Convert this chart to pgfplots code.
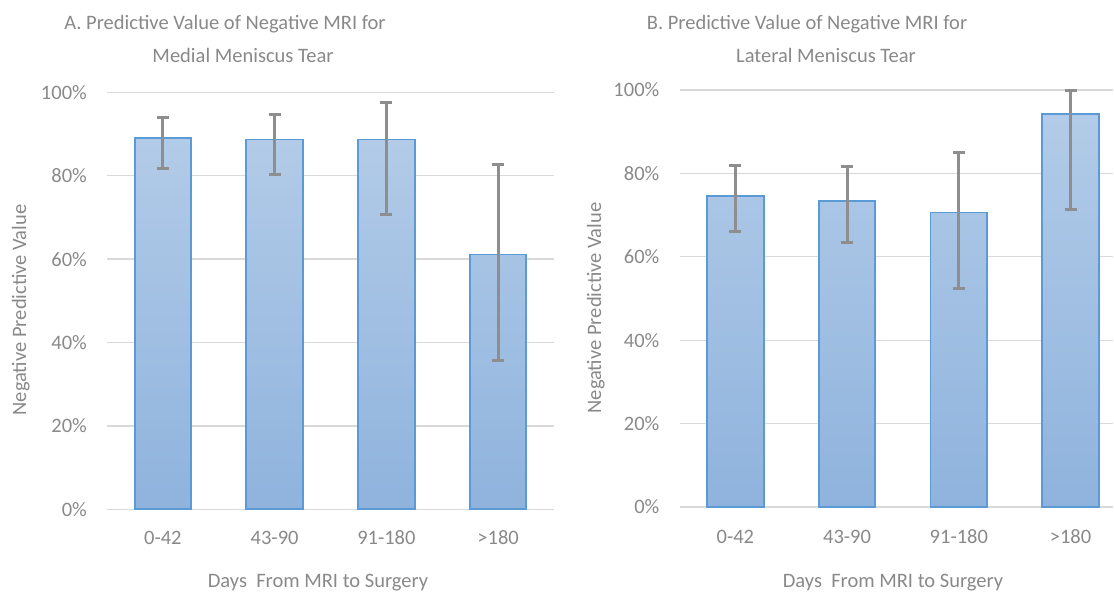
\documentclass[border=0pt]{standalone}
\usepackage{fontspec}
\setmainfont{Carlito}
\usepackage{pgfplots}
\usepackage{pgfplotstable}
\pgfplotsset{compat=1.18}
\definecolor{txtgray}{HTML}{898989}
\definecolor{gridgray}{HTML}{D9D9D9}
\definecolor{bartop}{HTML}{B2CBE8}
\definecolor{barbot}{HTML}{8FB3DD}
\definecolor{baredge}{HTML}{5B9BD5}
\definecolor{errgray}{HTML}{8E8E8E}

\pgfplotstableread{
x y ep em
0 89.0 5.0 7.2
1 88.7 5.9 8.4
2 88.7 8.9 18.0
3 61.1 21.6 25.4
}\tableA
\pgfplotstableread{
x y ep em
0 74.6 7.4 8.6
1 73.3 8.3 9.8
2 70.6 14.4 18.2
3 94.2 5.7 22.8
}\tableB

\pgfplotsset{
 myaxis/.style={
  scale only axis, height=417pt, ymin=0, ymax=100, xmin=-0.5,
  ytick={0,20,40,60,80,100}, yticklabels={0\%,20\%,40\%,60\%,80\%,100\%},
  xtick={0,1,2,3}, xticklabels={0-42,43-90,91-180,>180},
  ymajorgrids, grid style={gridgray, line width=1.3pt},
  axis line style={draw=none}, major tick length=0pt,
  tick label style={font=\fontsize{20.5}{24}\selectfont, text=txtgray, inner sep=0pt},
  yticklabel style={anchor=east, xshift=-20pt},
  clip=false,
 },
 mybar/.style={ybar, bar width=56.5pt, draw=baredge, line width=1.8pt,
   top color=bartop, bottom color=barbot,
   error bars/.cd, y dir=both, y explicit,
   error bar style={errgray, line width=3pt},
   error mark options={errgray, rotate=90, mark size=6pt, line width=3pt}},
}

\begin{document}
\begin{tikzpicture}[every node/.style={text=txtgray, font=\fontsize{20.5}{24}\selectfont}]
\path[use as bounding box] (0,0) rectangle (1114pt,592pt);

\begin{axis}[myaxis, width=447pt, xmax=3.5, at={(107pt,82.7pt)}, anchor=south west,
  xticklabel style={anchor=base, yshift=-34.7pt}]
\addplot[mybar] table[x=x, y=y, y error plus=ep, y error minus=em] {\tableA};
\end{axis}

\begin{axis}[myaxis, width=433.5pt, xmax=3.38, at={(679.5pt,85pt)}, anchor=south west,
  xticklabel style={anchor=base, yshift=-36.3pt}]
\addplot[mybar] table[x=x, y=y, y error plus=ep, y error minus=em] {\tableB};
\end{axis}

\node[anchor=base] at (225pt,562pt) {A. Predictive Value of Negative MRI for};
\node[anchor=base] at (243pt,529pt) {Medial Meniscus Tear};
\node[anchor=base] at (807pt,562pt) {B. Predictive Value of Negative MRI for};
\node[anchor=base] at (826pt,529pt) {Lateral Meniscus Tear};

\node[anchor=base] at (318pt,5pt) {Days\ \ From MRI to Surgery};
\node[anchor=base] at (893pt,5pt) {Days\ \ From MRI to Surgery};

\node[rotate=90, anchor=base] at (26pt,282pt) {Negative Predictive Value};
\node[rotate=90, anchor=base] at (601pt,284pt) {Negative Predictive Value};
\end{tikzpicture}
\end{document}
